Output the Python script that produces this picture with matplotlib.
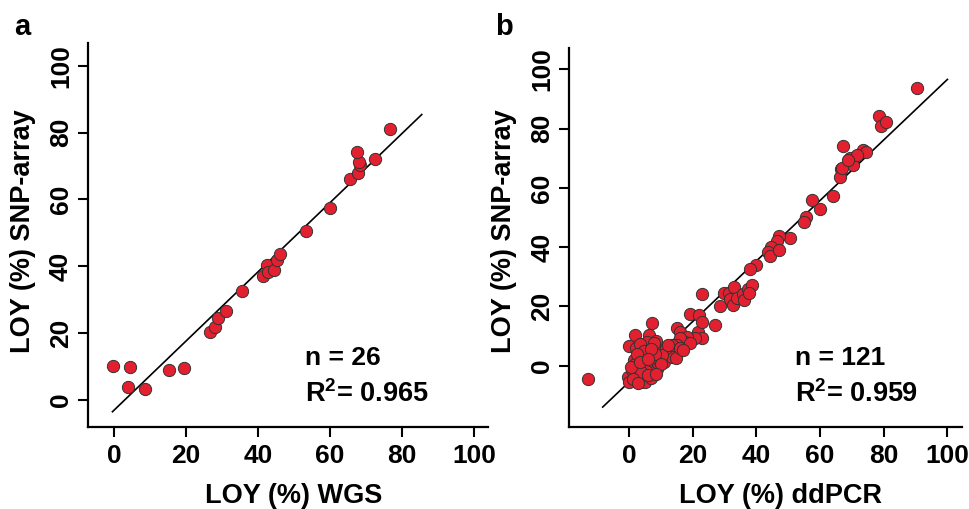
import matplotlib
matplotlib.use("Agg")
import matplotlib.pyplot as plt

plt.rcParams['font.family'] = ['Liberation Sans', 'DejaVu Sans']
plt.rcParams['font.weight'] = 'bold'
plt.rcParams['mathtext.fontset'] = 'custom'
plt.rcParams['mathtext.rm'] = 'Liberation Sans:bold'
plt.rcParams['mathtext.bf'] = 'Liberation Sans:bold'

# panel a: WGS vs SNP-array (26 samples)
wgs_x = [-0.2, 4.6, 3.9, 8.7, 15.4, 19.4, 26.6, 28.1, 29.0, 31.0, 35.6, 41.3, 42.4,
         42.9, 44.4, 45.4, 46.1, 53.3, 59.9, 65.6, 67.7, 68.3, 68.0, 67.4, 72.5, 76.8]
wgs_y = [10.3, 10.0, 4.0, 3.2, 9.0, 9.6, 20.2, 21.9, 24.4, 26.6, 32.7, 37.1, 40.3,
         38.3, 39.0, 42.0, 43.6, 50.4, 57.3, 66.2, 67.9, 70.2, 71.3, 74.1, 72.1, 81.1]
fit_a = (1.035, -3.1)       # slope, intercept
line_a_x = (-0.4, 85.5)
n_a, r2_a = 26, 0.965

# panel b: ddPCR vs SNP-array (121 samples)
pcr_x = [90.4, 78.4, 79.2, 80.7, 67.3, 69.4, 70.3, 73.4, 74.4, 71.7, 66.6, 66.3, 64.0,
         57.6, 60.0, 55.6, 54.9, 50.4, 47.1, 46.4, 44.6, 43.5, 44.3, 47.1, 39.8, 38.0,
         67.0, 68.8,
         22.8, 28.6, 29.8, 31.5, 31.7, 32.5, 32.8, 34.0, 35.9, 36.1, 37.5, 38.5, 37.8, 27.0,
         7.1, 1.7, 6.1, 8.5, 0.1, 2.2, 4.3, 6.4, 8.9, 1.4, 4.0, 5.6, 7.1, 3.2, 4.5, 6.4,
         8.2, 6.6, -0.2, 0.1, 2.2, 3.5, 4.5, 6.6, 7.6, 5.0, 1.4, 0.8, 2.4, 5.6, 8.7, 9.2,
         9.7, 10.6, 9.5, 11.0, 12.4, 13.4, 14.8, 11.6, 10.3, 5.6, 7.8, 3.5, 15.0, 16.0,
         21.5, 22.8, 20.7, 18.1, 17.6, 16.0, 15.0, 13.4, 19.2, 16.0, 12.3, 19.0, 22.0,
         22.8, 3.0, 2.0, 5.2, 7.0, 3.8, 1.2, 2.8, 6.0, 8.0, 4.8, 2.5, 6.8, 10.0, 0.5,
         8.4, 3.4, 5.8, -13.0, 17.0]
pcr_y = [93.8, 84.4, 81.0, 82.3, 74.1, 70.0, 67.6, 72.8, 72.2, 71.1, 66.3, 63.8, 57.2,
         55.9, 52.9, 50.3, 48.4, 43.0, 43.6, 41.9, 40.2, 38.5, 37.0, 39.0, 34.0, 32.6,
         66.6, 69.5,
         24.1, 20.3, 24.6, 24.6, 22.4, 20.5, 26.7, 22.7, 24.2, 22.2, 25.8, 27.2, 24.4, 13.7,
         14.3, 10.4, 10.4, 8.4, 6.6, 5.9, 5.9, 7.0, 4.7, 1.9, 3.0, 4.2, 3.0, -0.9, 1.0, 1.3,
         0.2, -0.9, -3.7, -5.4, -3.7, -5.4, -3.1, -3.5, -2.0, -5.4, -2.6, -1.5, -4.8, 0.8, -1.2, 0.8,
         4.7, 2.5, 1.9, 1.4, 5.5, 3.0, 2.7, 6.0, 3.6, 8.1, 7.6, 7.2, 12.6, 11.5,
         11.5, 9.2, 9.2, 9.8, 8.1, 9.2, 7.0, 7.0, 7.6, 5.9, 7.0, 17.4, 17.1,
         14.9, 2.1, 0.5, -1.8, -4.2, -2.0, -4.5, -5.9, -3.0, 3.8, 4.8, 3.8, 5.6, 0.5, -0.5,
         -2.8, 1.2, 2.4, -4.5, 5.3]
fit_b = (1.021, -5.5)
line_b_x = (-8.3, 100.0)
n_b, r2_b = 121, 0.959

ticks = [0, 20, 40, 60, 80, 100]
dot_face = '#e3202f'
dot_edge = '#333333'

fig = plt.figure(figsize=(9.69, 5.09), dpi=100)


def panel(rect, x, y, fit, line_x, xlim, ylim, xlabel, n, r2, xlab_pos, ylab_pos, txt_pos):
    ax = fig.add_axes(rect)
    slope, icept = fit
    ax.plot(line_x, [slope * v + icept for v in line_x], color='black', lw=1.2, zorder=2)
    ax.scatter(x, y, s=78, c=dot_face, edgecolors=dot_edge, linewidths=0.7, zorder=3)
    ax.set_xlim(*xlim)
    ax.set_ylim(*ylim)
    ax.set_xticks(ticks)
    ax.set_yticks(ticks)
    for side in ['top', 'right']:
        ax.spines[side].set_visible(False)
    for side in ['left', 'bottom']:
        ax.spines[side].set_linewidth(1.6)
    ax.tick_params(direction='out', length=7.2, width=1.5, labelsize=19)
    ax.tick_params(axis='x', pad=5)
    ax.tick_params(axis='y', pad=3.5, labelrotation=90)
    for lab in ax.get_yticklabels():
        lab.set_verticalalignment('center')
    for lab in ax.get_xticklabels() + ax.get_yticklabels():
        lab.set_fontweight('bold')
    ax.set_xlabel(xlabel, fontsize=19.5, fontweight='bold')
    ax.set_ylabel('LOY (%) SNP-array', fontsize=19.5, fontweight='bold')
    ax.xaxis.set_label_coords(*xlab_pos)
    ax.yaxis.set_label_coords(*ylab_pos)
    ax.text(txt_pos[0], txt_pos[1], f'n = {n}', transform=ax.transAxes,
            fontsize=19, fontweight='bold', va='baseline')
    ax.text(txt_pos[0], txt_pos[2], r'$\mathrm{R^2}$= ' + f'{r2:.3f}', transform=ax.transAxes,
            fontsize=19.5, fontweight='bold', va='baseline')
    return ax


panel([0.0908, 0.1617, 0.4128, 0.7532], wgs_x, wgs_y, fit_a, line_a_x,
      (-7.2, 103.9), (-8.0, 106.7), 'LOY (%) WGS', n_a, r2_a,
      (0.5145, -0.147), (-0.13, 0.509), (0.5425, 0.161, 0.065))
panel([0.5875, 0.1617, 0.4050, 0.7434], pcr_x, pcr_y, fit_b, line_b_x,
      (-18.8, 104.5), (-20.6, 107.1), 'LOY (%) ddPCR', n_b, r2_b,
      (0.537, -0.149), (-0.132, 0.518), (0.575, 0.163, 0.066))

fig.text(14 / 969, 1 - 35 / 509, 'a', fontsize=21, fontweight='bold', va='baseline')
fig.text(495 / 969, 1 - 35 / 509, 'b', fontsize=21, fontweight='bold', va='baseline')

fig.savefig('out.png', dpi=100)
